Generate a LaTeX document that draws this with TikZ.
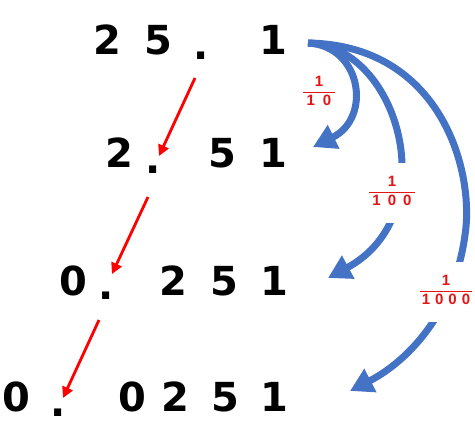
\documentclass[tikz,border=0pt]{standalone}
\usepackage{fontspec}
\setmainfont{Liberation Sans}
\newfontfamily\digfont{DejaVu Sans}
\usetikzlibrary{arrows.meta}
\definecolor{myblue}{RGB}{68,114,196}
\definecolor{labred}{RGB}{230,20,20}
\begin{document}
\begin{tikzpicture}[x=1pt,y=-1pt,
  dig/.style={font=\digfont\bfseries\fontsize{40}{40}\selectfont, inner sep=0pt, anchor=base},
  dotn/.style={font=\digfont\bfseries\fontsize{40}{40}\selectfont, inner sep=0pt, anchor=center},
  redarr/.style={draw=red, line width=2.8pt, -{Triangle[length=11pt,width=11pt]}},
  bluearr/.style={draw=myblue, line width=7pt, -{Triangle[length=23pt,width=25pt]}},
  fraclab/.style={font=\bfseries\fontsize{15}{16}\selectfont, inner xsep=4pt, inner ysep=12pt, fill=white, text=labred}]
\useasboundingbox (0,0) rectangle (475,423);
% blue arrows
\coordinate (bs) at (308,43);
\coordinate (t1) at (313,147);
\coordinate (t2) at (328,278);
\coordinate (t3) at (350,391);
\draw[bluearr] (bs) .. controls (362,46) and (372,118) .. (t1);
\draw[bluearr] (bs) .. controls (400,46) and (445,215) .. (t2);
\draw[bluearr] (bs) .. controls (440,45) and (475,170) .. (465,235) .. controls (455,310) and (410,360) .. (t3);
% labels
\node[fraclab, inner sep=1pt] (f1) at (319,93) {\color{labred}\setlength{\tabcolsep}{4pt}\begin{tabular}{c}1\\[1pt]\hline\rule{0pt}{13pt}1\hspace{8pt}0\end{tabular}};
\node[fraclab] (f2) at (392,193) {\color{labred}\setlength{\tabcolsep}{3pt}\begin{tabular}{c}1\\[1pt]\hline\rule{0pt}{13pt}1\hspace{7pt}0\hspace{7pt}0\end{tabular}};
\node[fraclab, inner xsep=0pt] (f3) at (446,292) {\color{labred}\setlength{\tabcolsep}{2pt}\begin{tabular}{c}1\\[1pt]\hline\rule{0pt}{13pt}1\hspace{5pt}0\hspace{5pt}0\hspace{5pt}0\end{tabular}};
% row 1
\node[dig] (a2) at (107,55) {2};
\node[dig] (a5) at (158,55) {5};
\node[dotn] (ad) at (201,56) {.};
\node[dig] (a1) at (273,55) {1};
% row 2
\node[dig] (b2) at (119,167) {2};
\node[dotn] (bd) at (153,170) {.};
\node[dig] (b5) at (222,167) {5};
\node[dig] (b1) at (273,167) {1};
% row 3
\node[dig] (c0) at (73,295) {0};
\node[dotn] (cd) at (106,296) {.};
\node[dig] (c2) at (173,295) {2};
\node[dig] (c5) at (224,295) {5};
\node[dig] (c1) at (274,295) {1};
% row 4
\node[dig] (d0) at (16,411) {0};
\node[dotn] (dd) at (58,413) {.};
\node[dig] (d0b) at (132,411) {0};
\node[dig] (d2) at (175,411) {2};
\node[dig] (d5) at (225,411) {5};
\node[dig] (d1) at (274,411) {1};
% red arrows
\coordinate (r1s) at (195,78);  \coordinate (r1e) at (159,156);
\coordinate (r2s) at (148,197); \coordinate (r2e) at (112,274);
\coordinate (r3s) at (99,320);  \coordinate (r3e) at (63,398);
\draw[redarr] (r1s) -- (r1e);
\draw[redarr] (r2s) -- (r2e);
\draw[redarr] (r3s) -- (r3e);
\end{tikzpicture}
\end{document}
